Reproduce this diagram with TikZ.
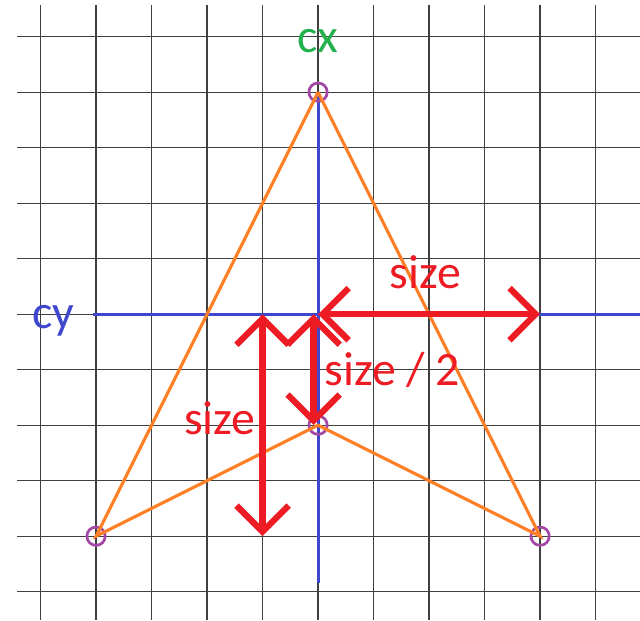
\documentclass[tikz,border=0pt]{standalone}
\usepackage{fontspec}
\setmainfont{Carlito}
\usetikzlibrary{arrows.meta,positioning}
\definecolor{paintred}{HTML}{ED1C24}
\definecolor{paintorange}{HTML}{FF7F27}
\definecolor{paintgreen}{HTML}{22B14C}
\definecolor{paintblue}{HTML}{3F48CC}
\definecolor{paintpurple}{HTML}{A349A4}

\begin{document}
\begin{tikzpicture}[
  gridline/.style={draw=black!75,line width=0.65pt},
  axis/.style={draw=paintblue,line width=1.6pt},
  edge/.style={draw=paintorange,line width=1.6pt},
  vertex/.style={circle,draw=paintpurple,line width=1.4pt,minimum size=0.33cm,inner sep=0pt},
  measure/.style={draw=paintred,line width=3.2pt,
    {Straight Barb[length=4.7mm,width=9.4mm]}-{Straight Barb[length=4.7mm,width=9.4mm]}},
  tag/.style={font=\fontsize{24.5}{29}\selectfont,inner sep=0pt,anchor=base}
]
  \useasboundingbox (-5.73,-5.51) rectangle (5.80,5.66);
  \foreach \k in {-5,...,5} {
    \draw[gridline] (\k,-5.51) -- (\k,5.57);
    \draw[gridline] (-5.42,\k) -- (5.80,\k);
  }

  \coordinate (c) at (0,0);
  \coordinate (ytop) at (0,4);
  \coordinate (ybot) at (0,-4.85);
  \coordinate (xleft) at (-4.05,0);
  \coordinate (xright) at (5.80,0);
  \draw[axis] (ytop) -- (ybot);
  \draw[axis] (xleft) -- (xright);

  \node[vertex] (apex) at (0,4) {};
  \node[vertex] (left) at (-4,-4) {};
  \node[vertex] (right) at (4,-4) {};
  \node[vertex] (notch) at (0,-2) {};
  \draw[edge] (apex.center) -- (left.center) -- (notch.center) -- (right.center) -- (apex.center);

  \coordinate (wend) at (4,0);
  \coordinate (htop) at (-0.08,0);
  \coordinate (hbot) at (-0.08,-2);
  \coordinate (stop) at (-1,0);
  \coordinate (sbot) at (-1,-4);
  \draw[measure] (c) -- (wend);
  \draw[measure] (htop) -- (hbot);
  \draw[measure] (stop) -- (sbot);

  \node[tag,paintgreen,anchor=center] (cx) at (0,4.92) {cx};
  \node[tag,paintblue] (cy) at (-4.77,-0.25) {cy};
  \node[tag,paintred] (wsize) at (1.93,0.47) {size};
  \node[tag,paintred] (hsize) at (1.34,-1.28) {size / 2};
  \node[tag,paintred] (ssize) at (-1.77,-2.16) {size};
\end{tikzpicture}
\end{document}
